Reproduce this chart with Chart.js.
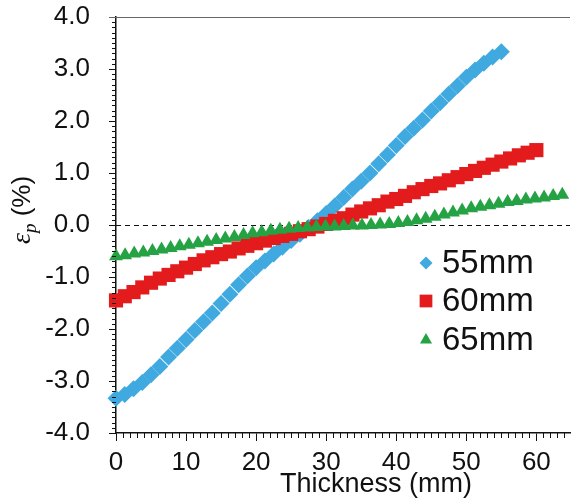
<!DOCTYPE html>
<html>
<head>
<meta charset="utf-8">
<script src="https://cdn.jsdelivr.net/npm/chart.js@4/dist/chart.umd.min.js"></script>
<style>
  html, body { margin: 0; padding: 0; background: #fff; }
  #wrap { width: 580px; height: 501px; position: relative; }
</style>
</head>
<body>
<div id="wrap"><canvas id="c" width="580" height="501"></canvas></div>
<script>
// Plastic strain through the thickness for three plate thicknesses
const seriesLabels = ['55mm', '60mm', '65mm'];

const thick55 = [0, 1.25, 2.5, 3.75, 5, 6.25, 7.5, 8.75, 10, 11.25, 12.5, 13.75, 15, 16.25, 17.5, 18.75,
  20, 21.25, 22.5, 23.75, 25, 26.25, 27.5, 28.75, 30, 31.25, 32.5, 33.75, 35, 36.25, 37.5, 38.75,
  40, 41.25, 42.5, 43.75, 45, 46.25, 47.5, 48.75, 50, 51.25, 52.5, 53.75, 55];
const strain55 = [-3.33, -3.26, -3.15, -3.03, -2.88, -2.72, -2.54, -2.37, -2.2, -2.03, -1.86, -1.69, -1.51, -1.33, -1.15, -0.98,
  -0.82, -0.69, -0.56, -0.43, -0.3, -0.18, -0.05, 0.08, 0.22, 0.37, 0.53, 0.69, 0.84, 1.0, 1.18, 1.35,
  1.53, 1.7, 1.86, 2.02, 2.19, 2.35, 2.52, 2.68, 2.84, 2.98, 3.11, 3.23, 3.33];

const thick60 = [0, 1.25, 2.5, 3.75, 5, 6.25, 7.5, 8.75, 10, 11.25, 12.5, 13.75, 15, 16.25, 17.5, 18.75,
  20, 21.25, 22.5, 23.75, 25, 26.25, 27.5, 28.75, 30, 31.25, 32.5, 33.75, 35, 36.25, 37.5, 38.75,
  40, 41.25, 42.5, 43.75, 45, 46.25, 47.5, 48.75, 50, 51.25, 52.5, 53.75, 55, 56.25, 57.5, 58.75, 60];
const strain60 = [-1.45, -1.37, -1.29, -1.2, -1.11, -1.03, -0.96, -0.89, -0.82, -0.75, -0.68, -0.62, -0.56, -0.51, -0.45, -0.4,
  -0.35, -0.3, -0.25, -0.21, -0.17, -0.12, -0.08, -0.03, 0.02, 0.08, 0.13, 0.2, 0.26, 0.32, 0.38, 0.45,
  0.5, 0.56, 0.63, 0.69, 0.75, 0.8, 0.86, 0.92, 0.98, 1.04, 1.1, 1.16, 1.22, 1.28, 1.34, 1.39, 1.44];

const thick65 = [0, 1.3, 2.6, 3.9, 5.2, 6.5, 7.8, 9.1, 10.4, 11.7, 13, 14.3, 15.6, 16.9, 18.2, 19.5,
  20.8, 22.1, 23.4, 24.7, 26, 27.3, 28.6, 29.9, 31.2, 32.5, 33.8, 35.1, 36.4, 37.7, 39, 40.3,
  41.6, 42.9, 44.2, 45.5, 46.8, 48.1, 49.4, 50.7, 52, 53.3, 54.6, 55.9, 57.2, 58.5, 59.8, 61.1, 62.4, 63.7];
const strain65 = [-0.6, -0.58, -0.55, -0.53, -0.5, -0.47, -0.44, -0.41, -0.38, -0.35, -0.32, -0.29, -0.26, -0.23, -0.19, -0.16,
  -0.14, -0.11, -0.09, -0.07, -0.06, -0.05, -0.04, -0.03, -0.03, -0.02, -0.01, -0.01, 0.0, 0.01, 0.02, 0.04,
  0.06, 0.09, 0.12, 0.16, 0.2, 0.24, 0.28, 0.32, 0.35, 0.38, 0.41, 0.44, 0.46, 0.49, 0.51, 0.53, 0.56, 0.58];

const xTickValues = [0, 10, 20, 30, 40, 50, 60];
const yTickValues = [-4, -3, -2, -1, 0, 1, 2, 3, 4];

const colors = ['#3FA9E0', '#E31B1C', '#25A244'];
const shapes = ['rectRot', 'rect', 'triangle'];
const radii = [8.5, 10, 8];

const SANS = '"Liberation Sans", Arial, sans-serif';
const SERIF = '"Liberation Serif", "DejaVu Serif", serif';

const pts = (xs, ys) => xs.map((x, i) => ({ x: x, y: ys[i] }));

function markerPath(ctx, shape, x, y, r) {
  ctx.beginPath();
  if (shape === 'rectRot') {
    ctx.moveTo(x, y - r); ctx.lineTo(x + r, y); ctx.lineTo(x, y + r); ctx.lineTo(x - r, y);
  } else if (shape === 'rect') {
    const s = r * Math.SQRT1_2;
    ctx.rect(x - s, y - s, 2 * s, 2 * s);
  } else {
    const h = r;
    ctx.moveTo(x, y - h);
    ctx.lineTo(x + h * Math.sin(2 * Math.PI / 3), y + h * 0.5);
    ctx.lineTo(x - h * Math.sin(2 * Math.PI / 3), y + h * 0.5);
  }
  ctx.closePath();
}

const decor = {
  id: 'decor',
  beforeDatasetsDraw(chart) {
    const { ctx, chartArea: a, scales: { y } } = chart;
    const y0 = Math.round(y.getPixelForValue(0)) + 0.5;
    ctx.save();
    ctx.strokeStyle = '#111';
    ctx.lineWidth = 1;
    ctx.setLineDash([5, 4]);
    ctx.beginPath();
    ctx.moveTo(a.left, y0);
    ctx.lineTo(a.right, y0);
    ctx.stroke();
    ctx.restore();
  },
  afterDraw(chart) {
    const { ctx, chartArea: a, scales: { x, y } } = chart;
    ctx.save();
    // top frame line
    ctx.strokeStyle = '#666';
    ctx.lineWidth = 1;
    ctx.beginPath();
    ctx.moveTo(a.left - 7, Math.round(a.top) + 0.5);
    ctx.lineTo(a.right, Math.round(a.top) + 0.5);
    ctx.stroke();

    // minor ticks
    ctx.strokeStyle = '#111';
    ctx.lineWidth = 1;
    ctx.beginPath();
    for (let v = 1; v <= 64; v++) {
      if (v % 10 === 0) continue;
      const px = Math.round(x.getPixelForValue(v)) + 0.5;
      ctx.moveTo(px, a.bottom);
      ctx.lineTo(px, a.bottom + 5);
    }
    for (let k = -40; k <= 40; k++) {
      if (k % 10 === 0) continue;
      const py = Math.round(y.getPixelForValue(k / 10)) + 0.5;
      ctx.moveTo(a.left, py);
      ctx.lineTo(a.left - 4, py);
    }
    ctx.stroke();

    // legend
    const lx = 426, ly = [263, 301, 340];
    chart.data.datasets.forEach((ds, i) => {
      ctx.fillStyle = colors[i];
      markerPath(ctx, shapes[i], lx, ly[i], [6.5, 9, 7][i]);
      ctx.fill();
      ctx.fillStyle = '#111';
      ctx.font = '33px ' + SANS;
      ctx.textAlign = 'left';
      ctx.textBaseline = 'middle';
      ctx.fillText(ds.label, 442, ly[i] + 1);
    });

    // x axis title
    ctx.fillStyle = '#111';
    ctx.font = '27px ' + SANS;
    ctx.textAlign = 'center';
    ctx.textBaseline = 'alphabetic';
    ctx.fillText('Thickness (mm)', 376, 492);

    // y axis title: epsilon_p (%)
    ctx.translate(30, 210);
    ctx.rotate(-Math.PI / 2);
    ctx.textBaseline = 'alphabetic';
    ctx.textAlign = 'left';
    const f1 = 'italic 28px ' + SERIF, f2 = 'italic 19px ' + SERIF, f3 = '26px ' + SANS;
    ctx.font = f1; const w1 = ctx.measureText('\u03B5').width;
    ctx.font = f2; const w2 = ctx.measureText('p').width;
    ctx.font = f3; const w3 = ctx.measureText(' (%)').width;
    let cx = -(w1 + w2 + w3) / 2;
    ctx.font = f1; ctx.fillText('\u03B5', cx, 0); cx += w1;
    ctx.font = f2; ctx.fillText('p', cx, 6); cx += w2;
    ctx.font = f3; ctx.fillText(' (%)', cx, 0);
    ctx.restore();
  }
};

const datasets = [
  { label: seriesLabels[0], data: pts(thick55, strain55), order: 2 },
  { label: seriesLabels[1], data: pts(thick60, strain60), order: 1 },
  { label: seriesLabels[2], data: pts(thick65, strain65), order: 0 }
].map((d, i) => Object.assign(d, {
  pointStyle: shapes[i],
  pointRadius: radii[i],
  pointHoverRadius: radii[i],
  backgroundColor: colors[i],
  borderColor: colors[i],
  pointBorderWidth: 0,
  showLine: false,
  clip: false
}));

new Chart(document.getElementById('c'), {
  type: 'scatter',
  data: { datasets: datasets },
  options: {
    responsive: false,
    animation: false,
    devicePixelRatio: 1,
    layout: { padding: { top: 0, right: 0, left: 0, bottom: 0 } },
    plugins: { legend: { display: false }, tooltip: { enabled: false } },
    scales: {
      x: {
        type: 'linear',
        min: 0,
        max: 64.8,
        afterBuildTicks: s => { s.ticks = xTickValues.map(v => ({ value: v })); },
        afterFit: s => { s.height = 68; s.paddingLeft = 0; s.paddingRight = 0; },
        grid: { drawOnChartArea: false, drawTicks: true, tickLength: 8, color: '#111', lineWidth: 1 },
        border: { display: true, color: '#111', width: 1.5 },
        ticks: { color: '#111', font: { family: SANS, size: 26 }, padding: 6, maxRotation: 0 }
      },
      y: {
        type: 'linear',
        min: -4,
        max: 4,
        afterBuildTicks: s => { s.ticks = yTickValues.map(v => ({ value: v })); },
        afterFit: s => { s.width = 116; s.paddingTop = 17; s.paddingBottom = 0; },
        grid: { drawOnChartArea: false, drawTicks: true, tickLength: 7, color: '#111', lineWidth: 1 },
        border: { display: true, color: '#111', width: 1.5 },
        ticks: { color: '#111', font: { family: SANS, size: 26 }, padding: 19,
          callback: v => Number(v).toFixed(1) }
      }
    }
  },
  plugins: [decor]
});
</script>
</body>
</html>
